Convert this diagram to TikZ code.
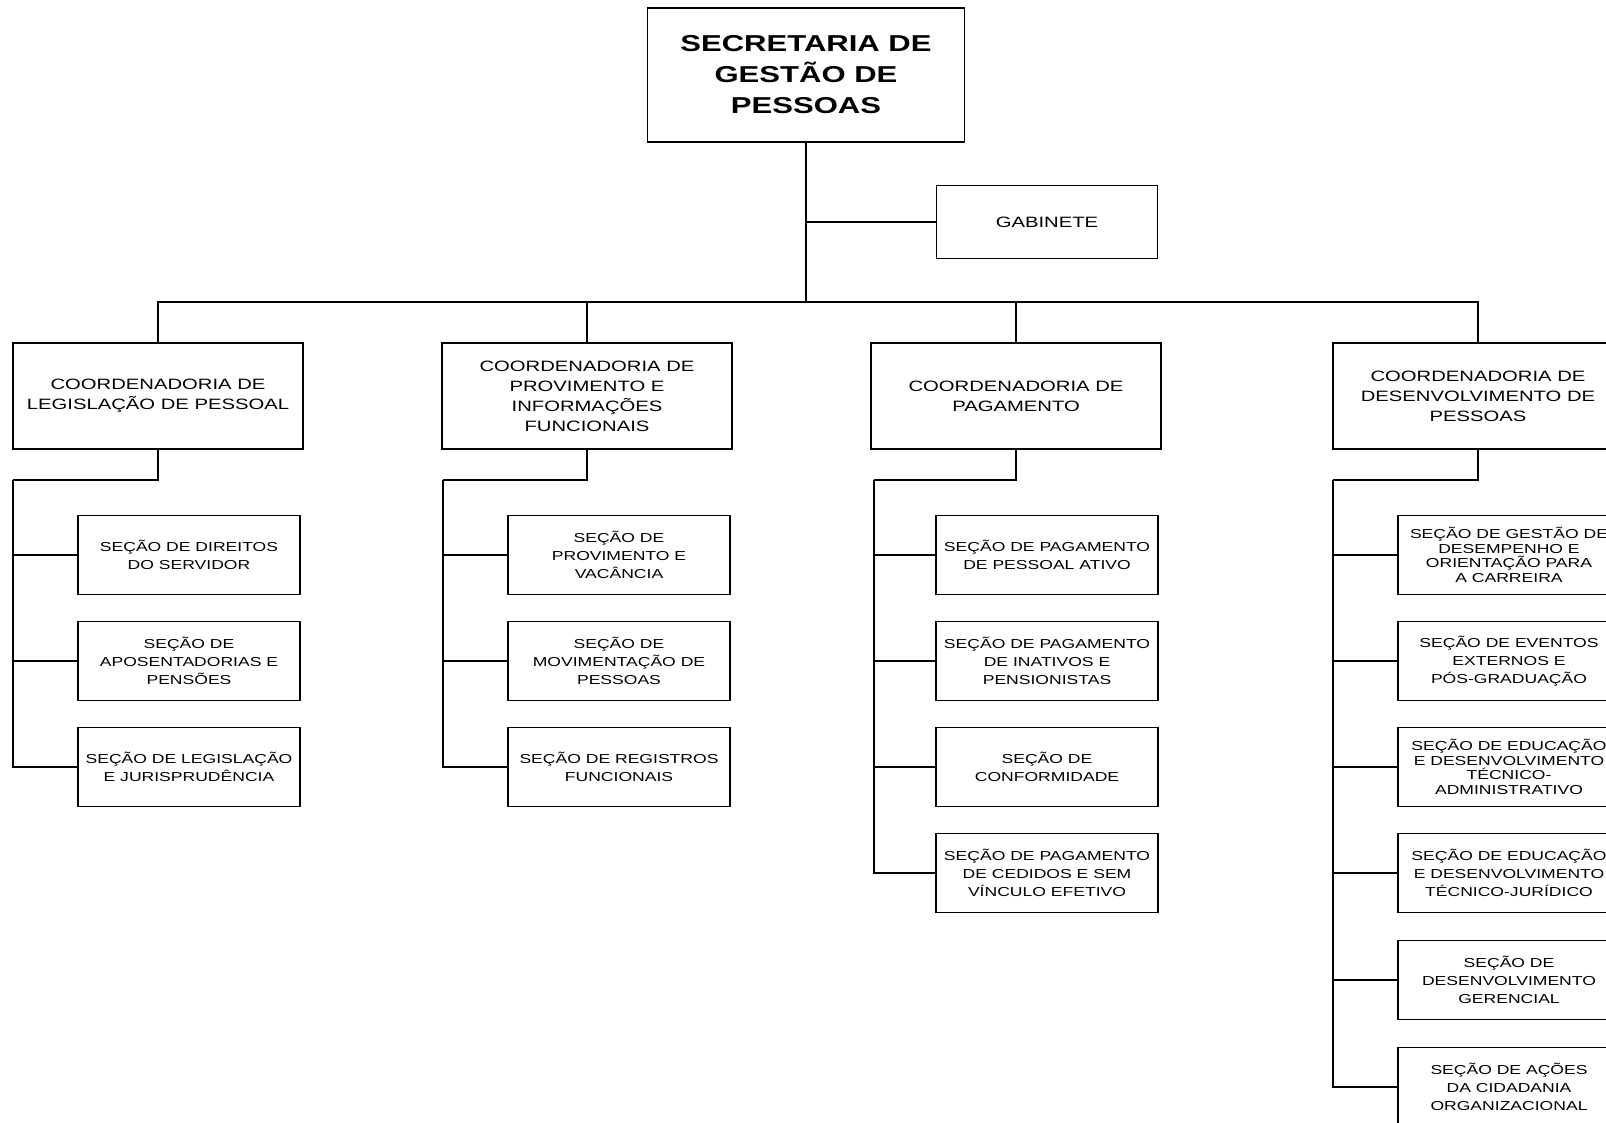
\documentclass[tikz,border=0pt]{standalone}
\usepackage{fontspec}
\setmainfont{Liberation Sans}[FakeStretch=1.35]
\usepackage{tikz}

\begin{document}
\begin{tikzpicture}[x=1pt, y=-1pt, line width=1.3pt,
		topbox/.style={draw, align=center, minimum width=317pt, minimum height=134pt, inner sep=0pt, font=\fontsize{23}{31}\selectfont\bfseries},
		gabbox/.style={draw, align=center, minimum width=221pt, minimum height=73pt, inner sep=0pt, font=\fontsize{15}{20}\selectfont},
		coordbox/.style={draw, align=center, minimum width=290pt, minimum height=106pt, inner sep=0pt, font=\fontsize{15}{20}\selectfont},
		secbox/.style={draw, align=center, minimum width=222pt, minimum height=79pt, inner sep=0pt, font=\fontsize{13}{18}\selectfont},
		tight/.style={font=\fontsize{13}{14.5}\selectfont}]
		\useasboundingbox (0,0) rectangle (1606,1123);
		\clip (0,0) rectangle (1606,1123);
		
		\node[topbox] (sgp) at (806,75) {SECRETARIA DE\\GESTÃO DE\\PESSOAS};
		\node[gabbox] (gab) at (1047,222) {GABINETE};
		
		\node[coordbox] (cleg) at (158,396) {COORDENADORIA  DE\\LEGISLAÇÃO DE PESSOAL};
		\node[coordbox] (cprov) at (587,396) {COORDENADORIA DE\\PROVIMENTO E\\INFORMAÇÕES\\FUNCIONAIS};
		\node[coordbox] (cpag) at (1016,396) {COORDENADORIA  DE\\PAGAMENTO};
		\node[coordbox] (cdes) at (1478,396) {COORDENADORIA  DE\\DESENVOLVIMENTO DE\\PESSOAS};
		
		\node[secbox] (sdir) at (189,555) {SEÇÃO DE  DIREITOS\\DO SERVIDOR};
		\node[secbox] (sapo) at (189,661) {SEÇÃO DE\\APOSENTADORIAS E\\PENSÕES};
		\node[secbox] (sleg) at (189,767) {SEÇÃO DE LEGISLAÇÃO\\E JURISPRUDÊNCIA};
		
		\node[secbox] (sprov) at (619,555) {SEÇÃO DE\\PROVIMENTO E\\VACÂNCIA};
		\node[secbox] (smov) at (619,661) {SEÇÃO DE\\MOVIMENTAÇÃO DE\\PESSOAS};
		\node[secbox] (sreg) at (619,767) {SEÇÃO DE REGISTROS\\FUNCIONAIS};
		
		\node[secbox] (sati) at (1047,555) {SEÇÃO DE PAGAMENTO\\DE PESSOAL  ATIVO};
		\node[secbox] (sina) at (1047,661) {SEÇÃO DE PAGAMENTO\\DE INATIVOS E\\PENSIONISTAS};
		\node[secbox] (sconf) at (1047,767) {SEÇÃO DE\\CONFORMIDADE};
		\node[secbox] (sced) at (1047,873) {SEÇÃO DE PAGAMENTO\\DE CEDIDOS E SEM\\VÍNCULO EFETIVO};
		
		\node[secbox, tight] (sges) at (1509,555) {SEÇÃO DE GESTÃO DE\\DESEMPENHO  E\\ORIENTAÇÃO PARA\\A  CARREIRA};
		\node[secbox] (seve) at (1509,661) {SEÇÃO DE EVENTOS\\EXTERNOS E\\PÓS-GRADUAÇÃO};
		\node[secbox, tight] (sadm) at (1509,767) {SEÇÃO DE  EDUCAÇÃO\\E DESENVOLVIMENTO\\TÉCNICO-\\ADMINISTRATIVO};
		\node[secbox] (sjur) at (1509,873) {SEÇÃO DE  EDUCAÇÃO\\E DESENVOLVIMENTO\\TÉCNICO-JURÍDICO};
		\node[secbox] (sger) at (1509,980) {SEÇÃO DE\\DESENVOLVIMENTO\\GERENCIAL};
		\node[secbox] (scid) at (1509,1087) {SEÇÃO DE AÇÕES\\DA CIDADANIA\\ORGANIZACIONAL};
		
		\coordinate (bus) at (806,302);
		\coordinate (kleg) at (13,480);
		\coordinate (kprov) at (443,480);
		\coordinate (kpag) at (874,480);
		\coordinate (kdes) at (1333,480);
		
		\draw (sgp) -- (bus);
		\draw (sgp.south) |- (gab.west);
		\draw (bus) -| (cleg.north);
		\draw (bus) -| (cprov.north);
		\draw (bus) -| (cpag.north);
		\draw (bus) -| (cdes.north);
		
		\draw (cleg.south) |- (kleg);
		\draw (kleg) |- (sdir.west);
		\draw (kleg) |- (sapo.west);
		\draw (kleg) |- (sleg.west);
		
		\draw (cprov.south) |- (kprov);
		\draw (kprov) |- (sprov.west);
		\draw (kprov) |- (smov.west);
		\draw (kprov) |- (sreg.west);
		
		\draw (cpag.south) |- (kpag);
		\draw (kpag) |- (sati.west);
		\draw (kpag) |- (sina.west);
		\draw (kpag) |- (sconf.west);
		\draw (kpag) |- (sced.west);
		
		\draw (cdes.south) |- (kdes);
		\draw (kdes) |- (sges.west);
		\draw (kdes) |- (seve.west);
		\draw (kdes) |- (sadm.west);
		\draw (kdes) |- (sjur.west);
		\draw (kdes) |- (sger.west);
		\draw (kdes) |- (scid.west);
	\end{tikzpicture}
\end{document}
